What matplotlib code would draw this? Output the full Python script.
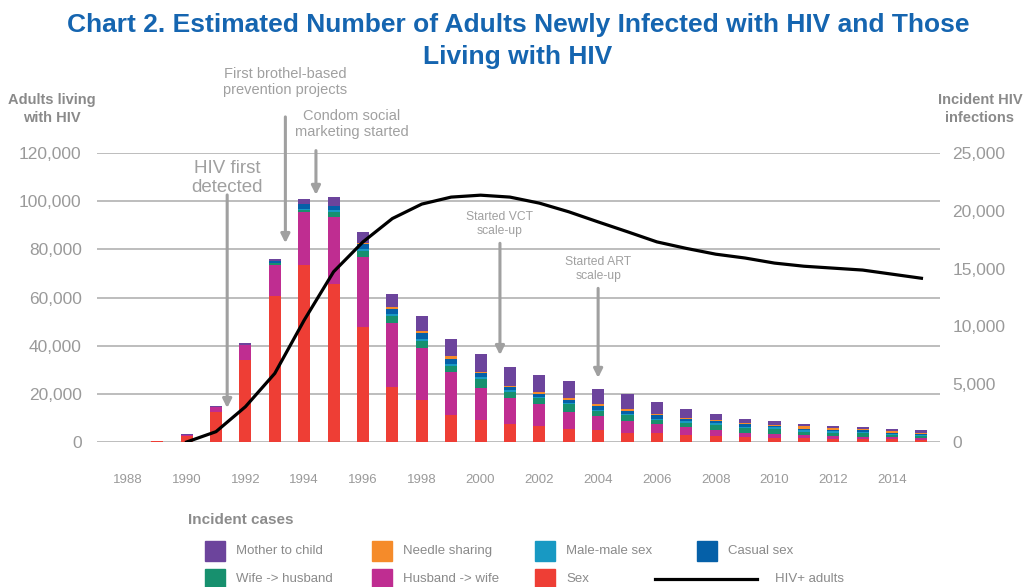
import numpy as np
import matplotlib.pyplot as plt
from matplotlib.patches import Rectangle
from matplotlib.lines import Line2D

plt.rcParams['font.family'] = ['Liberation Sans', 'DejaVu Sans']

# incident cases by route (right axis)
bar_years = list(range(1989, 2016))
sex = [130, 520, 2620, 7090, 12630, 15310, 13670, 9950, 4785, 3600, 2365, 1930, 1585, 1410,
       1150, 1065, 805, 805, 635, 545, 460, 375, 375, 290, 290, 290, 200]
husband_wife = [0, 90, 380, 1325, 2650, 4610, 5800, 6080, 5535, 4560, 3660, 2710, 2190, 1845,
                1470, 1210, 1040, 780, 690, 520, 346, 346, 260, 260, 173, 173, 173]
wife_husband = [0, 0, 0, 0, 230, 145, 460, 490, 550, 605, 580, 840, 580, 545,
                630, 433, 520, 346, 346, 433, 433, 433, 260, 260, 346, 173, 173]
casual = [0, 0, 0, 0, 130, 430, 375, 460, 490, 460, 433, 405, 320, 260,
          260, 346, 260, 346, 173, 173, 260, 87, 87, 87, 173, 87, 87]
male_male = [0, 0, 0, 0, 0, 60, 145, 145, 173, 173, 173, 115, 115, 115,
             145, 87, 87, 87, 173, 173, 87, 173, 173, 173, 87, 87, 87]
needle = [0, 0, 0, 0, 0, 0, 0, 115, 115, 173, 260, 87, 87, 173,
          173, 173, 173, 87, 87, 87, 87, 87, 260, 173, 87, 173, 87]
mother_child = [0, 90, 115, 175, 170, 430, 750, 925, 1185, 1355, 1470, 1555, 1645, 1470,
                1470, 1300, 1300, 1040, 780, 520, 346, 346, 173, 173, 173, 173, 260]

# adults living with HIV (left axis)
line_years = list(range(1990, 2016))
living = [0, 4300, 14650, 28500, 50600, 70700, 83100, 92800, 98800, 101700, 102500, 101700,
          99200, 95600, 91400, 87300, 83100, 80400, 78000, 76400, 74300, 73000, 72200,
          71400, 69700, 68000]

series = [
    ('Sex', sex, '#ee3e35'),
    ('Husband -> wife', husband_wife, '#bf2d91'),
    ('Wife -> husband', wife_husband, '#17906e'),
    ('Male-male sex', male_male, '#1899c3'),
    ('Casual sex', casual, '#0560a8'),
    ('Needle sharing', needle, '#f58b2a'),
    ('Mother to child', mother_child, '#6c449c'),
]
colors = {name: c for name, _, c in series}

left_ticks = [0, 20000, 40000, 60000, 80000, 100000, 120000]
right_ticks = [0, 5000, 10000, 15000, 20000, 25000]
x_ticks = list(range(1988, 2015, 2))

gray = '#9a9a9a'
fig = plt.figure(figsize=(10.36, 5.87), dpi=100)
ax = fig.add_axes([0.0936, 0.247, 0.8137, 0.4923])
ax2 = ax.twinx()

# left axis: living with HIV, gridlines
ax.set_ylim(0, 120000)
ax.set_xlim(1986.95, 2015.63)
ax.set_yticks(left_ticks)
ax.set_yticklabels([f'{v:,}' for v in left_ticks])
ax.grid(axis='y', color='#bdbdbd', lw=1.4)
ax.set_axisbelow(True)
ax.set_xticks(x_ticks)
ax.tick_params(axis='both', length=0, colors=gray)
ax.tick_params(axis='y', labelsize=12.5, pad=11)
ax.tick_params(axis='x', labelsize=9.5, pad=23)
for s in ax.spines.values():
    s.set_visible(False)

# right axis: incident infections, bars
ax2.set_ylim(0, 25000)
ax2.set_yticks(right_ticks)
ax2.set_yticklabels([f'{v:,}' for v in right_ticks])
ax2.tick_params(axis='y', length=0, colors=gray, labelsize=12.5, pad=9)
for s in ax2.spines.values():
    s.set_visible(False)

bottom = np.zeros(len(bar_years))
for name, vals, c in series:
    ax2.bar(bar_years, vals, width=0.41, bottom=bottom, color=c, zorder=2)
    bottom += np.array(vals)

# line drawn in the front axes but using the left-axis scale
ax2.plot(line_years, living, color='black', lw=2.3, zorder=3, transform=ax.transData)

fig.text(0.5, 0.978, 'Chart 2. Estimated Number of Adults Newly Infected with HIV and Those\nLiving with HIV',
         ha='center', va='top', fontsize=19, fontweight='bold', color='#1565b0', linespacing=1.4)
fig.text(52 / 1036, 1 - 109 / 587, 'Adults living\nwith HIV', ha='center', va='center',
         fontsize=10.5, fontweight='bold', color='#8a8a8a', linespacing=1.3)
fig.text(980 / 1036, 1 - 109 / 587, 'Incident HIV\ninfections', ha='center', va='center',
         fontsize=10.5, fontweight='bold', color='#8a8a8a', linespacing=1.3)

# event annotations (left-axis data units)
events = [
    ('HIV first\ndetected', 1991.38, 109600, 102600, 14100, 13.5),
    ('First brothel-based\nprevention projects', 1993.36, 149500, 135000, 82600, 10.5),
    ('Condom social\nmarketing started', 1995.63, 132000, 121000, 102600, 10.5),
    ('Started VCT\nscale-up', 2000.66, 90500, 82500, 36100, 8.7),
    ('Started ART\nscale-up', 2004.0, 71800, 63800, 26600, 8.7),
]
arrow_x = {'Condom social\nmarketing started': 1994.4}
for label, x, ty, y0, y1, fs in events:
    ax.text(x, ty, label, ha='center', va='center', fontsize=fs, color='#a0a0a0',
            linespacing=1.2, clip_on=False)
    xa = arrow_x.get(label, x)
    ax.annotate('', xy=(xa, y1), xytext=(xa, y0), annotation_clip=False,
                arrowprops=dict(arrowstyle='-|>', color='#a0a0a0', lw=2.2,
                                mutation_scale=13, shrinkA=0, shrinkB=0))

# legend drawn by hand
fig.text(188 / 1036, 1 - 520 / 587, 'Incident cases', ha='left', va='center',
         fontsize=11, fontweight='bold', color='#8c8c8c')
legend_rows = [
    [('Mother to child', 205), ('Needle sharing', 372), ('Male-male sex', 535), ('Casual sex', 697)],
    [('Wife -> husband', 205), ('Husband -> wife', 372), ('Sex', 535)],
]
for row, yy in zip(legend_rows, [551, 579]):
    for name, xx in row:
        fig.add_artist(Rectangle((xx / 1036, 1 - (yy + 10) / 587), 20 / 1036, 20 / 587,
                                 color=colors[name], transform=fig.transFigure))
        fig.text((xx + 31) / 1036, 1 - yy / 587, name, ha='left', va='center',
                 fontsize=9.5, color='#8a8a8a')
fig.add_artist(Line2D([655 / 1036, 757 / 1036], [1 - 579 / 587, 1 - 579 / 587],
                      color='black', lw=2.3, transform=fig.transFigure))
fig.text(775 / 1036, 1 - 579 / 587, 'HIV+ adults', ha='left', va='center',
         fontsize=9.5, color='#8a8a8a')

fig.savefig('out.png', dpi=100)
